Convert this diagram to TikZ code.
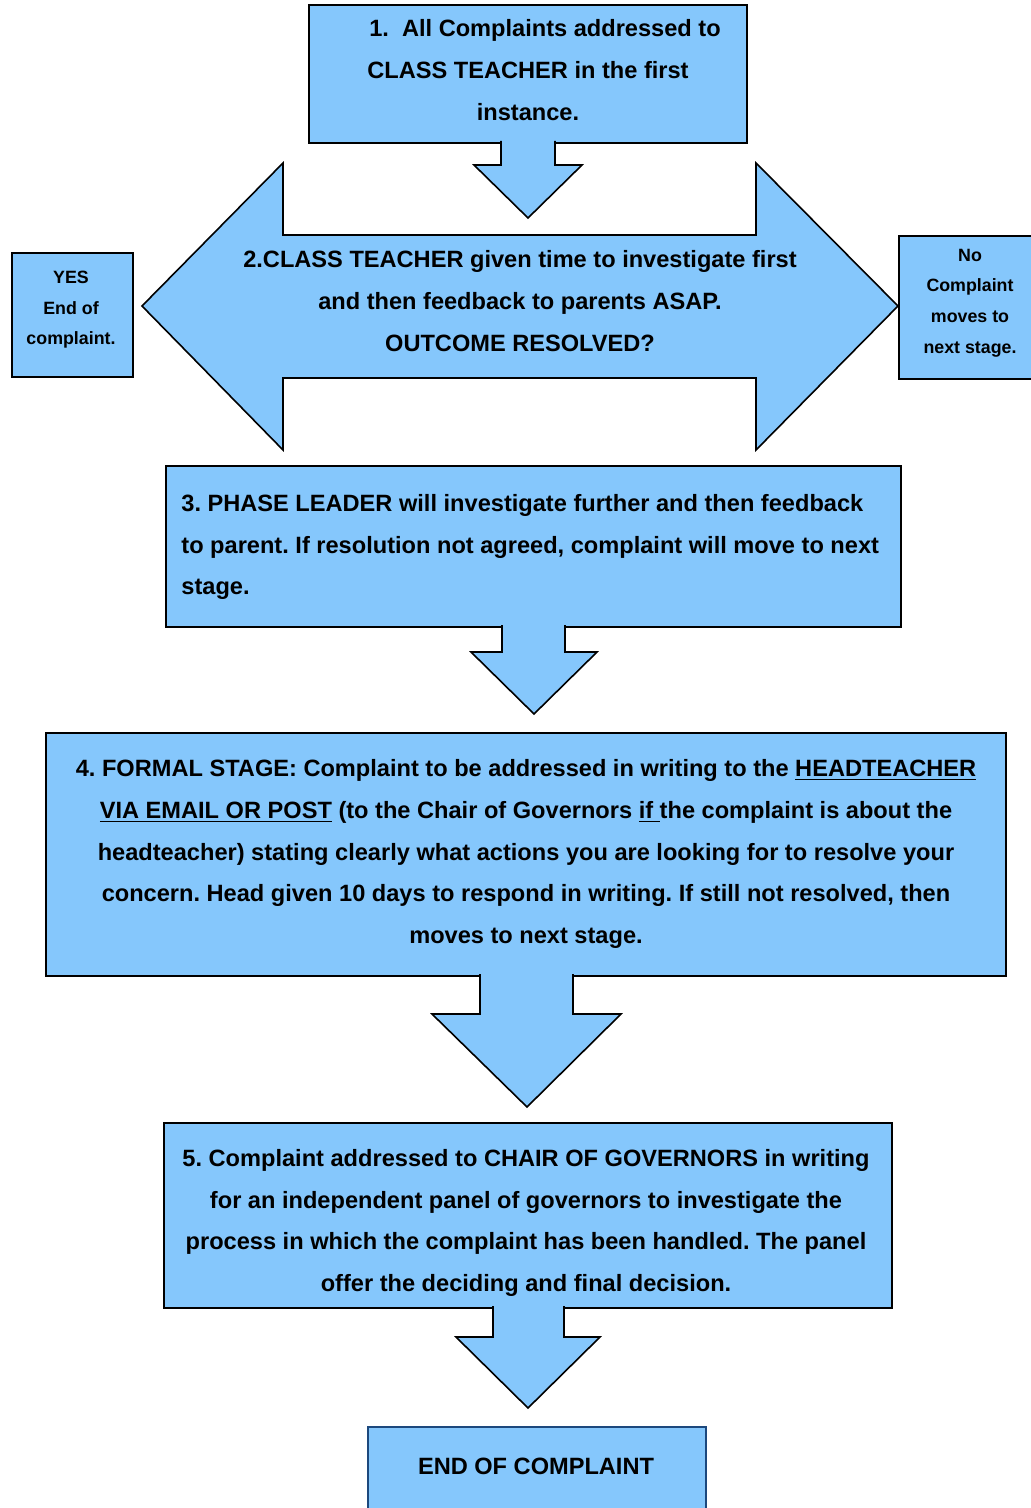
\documentclass[tikz,border=0pt]{standalone}
\usepackage{fontspec}
\setmainfont{Liberation Sans}
\definecolor{boxblue}{RGB}{133,199,252}
\definecolor{edgeblue}{RGB}{28,72,125}
\begin{document}
\frenchspacing
\begin{tikzpicture}[x=0.5pt,y=-0.5pt,
  boxshape/.style={fill=boxblue,draw=black,line width=1pt},
  arrowshape/.style={fill=boxblue,draw=black,line width=0.8pt,line join=miter},
  maintext/.style={font=\bfseries\fontsize{11.8}{20.9}\selectfont,align=center,inner sep=0pt},
  smalltext/.style={font=\bfseries\fontsize{8.9}{15.3}\selectfont,align=center,inner sep=0pt}]
\useasboundingbox (0,0) rectangle (1030,1508);

% boxes
\draw[boxshape] (309,5) rectangle (747,143);
\draw[boxshape] (12,253) rectangle (133,377);
\draw[boxshape] (899,236) rectangle (1040,379);
\draw[boxshape] (166,466) rectangle (901,627);
\draw[boxshape] (46,733) rectangle (1006,976);
\draw[boxshape] (164,1123) rectangle (892,1308);
\draw[fill=boxblue,draw=edgeblue,line width=1pt] (368,1427) rectangle (706,1520);

% block arrows
\draw[arrowshape] (501,141) -- (501,165) -- (474,165) -- (528,218) -- (582,165) -- (555,165) -- (555,141);
\draw[arrowshape] (283,235) -- (283,163) -- (142,306) -- (283,450) -- (283,378)
  -- (756,378) -- (756,450) -- (898,306) -- (756,163) -- (756,235) -- cycle;
\draw[arrowshape] (502,625) -- (502,652) -- (471,652) -- (534,714) -- (597,652) -- (565,652) -- (565,625);
\draw[arrowshape] (480,974) -- (480,1014) -- (432,1014) -- (527,1107) -- (621,1014) -- (573,1014) -- (573,974);
\draw[arrowshape] (493,1306) -- (493,1337) -- (456,1337) -- (528,1408) -- (600,1337) -- (564,1337) -- (564,1306);

% texts
\node[maintext] (t1) at (528,70) {\hspace*{17pt}1.\ \ All Complaints addressed to\\CLASS TEACHER in the first\\instance.};
\node[maintext] (t2) at (520,301) {2.CLASS TEACHER given time to investigate first\\and then feedback to parents ASAP.\\OUTCOME RESOLVED?};
\node[smalltext] (yes) at (71,310) {YES\\End of\\complaint.};
\node[smalltext] (no) at (970,303) {No\\Complaint\\moves to\\next stage.};
\node[maintext,align=left,anchor=west] (t3) at (181,547) {3. PHASE LEADER will investigate further and then feedback\\to parent. If resolution not agreed, complaint will move to next\\stage.};
\node[maintext] (t4) at (526,854) {4. FORMAL STAGE: Complaint to be addressed in writing to the \underline{HEADTEACHER}\\\underline{VIA EMAIL OR POST} (to the Chair of Governors \underline{if\ }the complaint is about the\\headteacher) stating clearly what actions you are looking for to resolve your\\concern. Head given 10 days to respond in writing. If still not resolved, then\\moves to next stage.};
\node[maintext] (t5) at (526,1223) {5. Complaint addressed to CHAIR OF GOVERNORS in writing\\for an independent panel of governors to investigate the\\process in which the complaint has been handled. The panel\\offer the deciding and final decision.};
\node[maintext] (t6) at (536,1466) {END OF COMPLAINT};
\end{tikzpicture}
\end{document}
